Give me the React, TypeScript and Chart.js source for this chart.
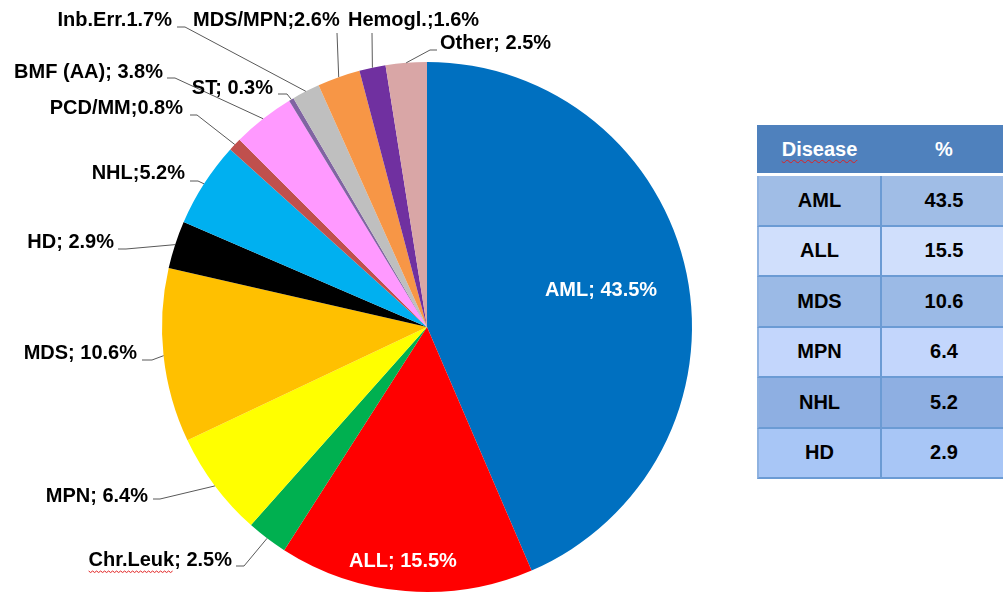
import React, { useEffect, useRef } from "react";
import { Chart, registerables } from "chart.js";

Chart.register(...registerables);

// ---- data ----
const categories = ["AML", "ALL", "Chr.Leuk", "MPN", "MDS", "HD", "NHL", "PCD/MM", "BMF (AA)", "ST", "Inb.Err.", "MDS/MPN", "Hemogl.", "Other"];
const values = [43.5, 15.5, 2.5, 6.4, 10.6, 2.9, 5.2, 0.8, 3.8, 0.3, 1.7, 2.6, 1.6, 2.5];
const labelTexts = ["AML; 43.5%", "ALL; 15.5%", "Chr.Leuk; 2.5%", "MPN; 6.4%", "MDS; 10.6%", "HD; 2.9%", "NHL;5.2%", "PCD/MM;0.8%", "BMF (AA); 3.8%", "ST; 0.3%", "Inb.Err.1.7%", "MDS/MPN;2.6%", "Hemogl.;1.6%", "Other; 2.5%"];
const sliceColors = ["#0070C0", "#FF0000", "#00B050", "#FFFF00", "#FFC000", "#000000", "#00B0F0", "#C0504D", "#FF99FF", "#8064A2", "#BFBFBF", "#F79646", "#7030A0", "#D9A6A6"];
const tableDiseases = ["AML", "ALL", "MDS", "MPN", "NHL", "HD"];
const tablePercents = ["43.5", "15.5", "10.6", "6.4", "5.2", "2.9"];

// ---- label layout (offsets from pie centre, px) ----
type Lay =
  | { kind: "in"; dx: number; dy: number }
  | { kind: "out"; align: CanvasTextAlign; dx: number; dy: number; pts: number[][]; squiggle?: string };
const labelLayout: Lay[] = [
  { kind: "in", dx: 174, dy: -37 },
  { kind: "in", dx: -24, dy: 234 },
  { kind: "out", align: "right", dx: -195, dy: 233, pts: [[-191, 239], [-183, 239]], squiggle: "Chr.Leuk" },
  { kind: "out", align: "right", dx: -279, dy: 169, pts: [[-274, 172], [-267, 172]] },
  { kind: "out", align: "right", dx: -290, dy: 26, pts: [[-285, 33], [-275, 33]] },
  { kind: "out", align: "right", dx: -313, dy: -85, pts: [[-309, -78], [-301, -78]] },
  { kind: "out", align: "right", dx: -242, dy: -154, pts: [[-237, -146], [-229, -146]] },
  { kind: "out", align: "right", dx: -244, dy: -219, pts: [[-237, -212], [-230, -212]] },
  { kind: "out", align: "right", dx: -264, dy: -255, pts: [[-260, -249], [-252, -249]] },
  { kind: "out", align: "right", dx: -154, dy: -239, pts: [[-149, -233], [-140, -233]] },
  { kind: "out", align: "right", dx: -255, dy: -307, pts: [[-250, -300], [-242, -300]] },
  { kind: "out", align: "left", dx: -234, dy: -307, pts: [[-90, -294]] },
  { kind: "out", align: "left", dx: -79, dy: -307, pts: [[-55, -294]] },
  { kind: "out", align: "left", dx: 13, dy: -284, pts: [[10, -277], [3, -277]] },
];

const FONT = 'bold 20px "Liberation Sans", Arial, sans-serif';

const labelPlugin = {
  id: "pieLabels",
  afterDatasetsDraw(chart: any) {
    const ctx: CanvasRenderingContext2D = chart.ctx;
    const meta = chart.getDatasetMeta(0);
    ctx.save();
    ctx.font = FONT;
    ctx.textBaseline = "middle";
    meta.data.forEach((arc: any, i: number) => {
      const lay = labelLayout[i];
      const { x, y, startAngle, endAngle, outerRadius } = arc.getProps(["x", "y", "startAngle", "endAngle", "outerRadius"], true);
      const text = labelTexts[i];
      if (lay.kind === "in") {
        ctx.fillStyle = "#FFFFFF";
        ctx.textAlign = "center";
        ctx.fillText(text, x + lay.dx, y + lay.dy);
        return;
      }
      const mid = (startAngle + endAngle) / 2;
      const ax = x + Math.cos(mid) * outerRadius;
      const ay = y + Math.sin(mid) * outerRadius;
      ctx.strokeStyle = "#595959";
      ctx.lineWidth = 1;
      ctx.beginPath();
      lay.pts.forEach((p, k) => {
        if (k === 0) ctx.moveTo(x + p[0], y + p[1]);
        else ctx.lineTo(x + p[0], y + p[1]);
      });
      ctx.lineTo(ax, ay);
      ctx.stroke();
      ctx.fillStyle = "#000000";
      ctx.textAlign = lay.align;
      const tx = x + lay.dx;
      const ty = y + lay.dy;
      ctx.fillText(text, tx, ty);
      if (lay.squiggle) {
        const full = ctx.measureText(text).width;
        const left = lay.align === "right" ? tx - full : tx;
        const w = ctx.measureText(lay.squiggle).width;
        ctx.strokeStyle = "#E02020";
        ctx.lineWidth = 1;
        ctx.beginPath();
        const yy = ty + 11;
        for (let sx = 0; sx <= w; sx += 2) {
          const py = yy + ((sx / 2) % 2 === 0 ? 0 : 1.5);
          if (sx === 0) ctx.moveTo(left + sx, py);
          else ctx.lineTo(left + sx, py);
        }
        ctx.stroke();
      }
    });
    ctx.restore();
  },
};

function PieChart() {
  const ref = useRef<HTMLCanvasElement>(null);
  useEffect(() => {
    if (!ref.current) return;
    const chart = new Chart(ref.current, {
      type: "pie",
      data: {
        labels: categories,
        datasets: [
          {
            data: values,
            backgroundColor: sliceColors,
            borderWidth: 0,
            hoverOffset: 0,
            offset: 0,
          },
        ],
      },
      options: {
        responsive: false,
        animation: false,
        devicePixelRatio: 1,
        layout: { padding: { left: 162, right: 311, top: 62, bottom: 48 } },
        plugins: { legend: { display: false }, tooltip: { enabled: false } },
        events: [],
      },
      plugins: [labelPlugin],
    } as any);
    return () => chart.destroy();
  }, []);
  return <canvas ref={ref} width={1003} height={640} style={{ display: "block", width: 1003, height: 640 }} />;
}

const rowColors = ["#A0BDE6", "#D0DFFC", "#9BBAE6", "#C3D6FC", "#8EAFE2", "#A8C6F6"];

function DiseaseTable() {
  const left = 757;
  const top = 125;
  const col1 = 125;
  const col2 = 124;
  const headH = 48;
  const rowH = 50.5;
  const font = { fontFamily: '"Liberation Sans", Arial, sans-serif', fontWeight: 700, fontSize: 20 } as const;
  return (
    <div style={{ position: "absolute", left, top, width: col1 + col2, ...font }}>
      <div style={{ display: "flex", height: headH, background: "#4F81BD", color: "#fff", alignItems: "center", borderBottom: "3px solid #ffffff" }}>
        <div style={{ width: col1, textAlign: "center" }}>
          <span style={{ textDecoration: "underline wavy #E02020", textDecorationThickness: 1, textUnderlineOffset: 3 }}>Disease</span>
        </div>
        <div style={{ width: col2, textAlign: "center" }}>%</div>
      </div>
      {tableDiseases.map((d, i) => (
        <div
          key={d}
          style={{
            display: "flex",
            height: rowH,
            background: rowColors[i],
            alignItems: "center",
            borderBottom: "2px solid #6B9BD4",
            borderLeft: "2px solid #8FB2E0",
            boxSizing: "border-box",
            color: "#000",
          }}
        >
          <div style={{ width: col1 - 2, textAlign: "center", height: "100%", display: "flex", alignItems: "center", justifyContent: "center", borderRight: "2px solid #6B9BD4", boxSizing: "border-box" }}>{d}</div>
          <div style={{ width: col2, textAlign: "center" }}>{tablePercents[i]}</div>
        </div>
      ))}
    </div>
  );
}

export default function App() {
  return (
    <div style={{ position: "absolute", left: 0, top: 0, width: 1003, height: 592, overflow: "hidden", background: "#fff" }}>
      <div style={{ position: "absolute", left: 0, top: 0 }}>
        <PieChart />
      </div>
      <DiseaseTable />
    </div>
  );
}
